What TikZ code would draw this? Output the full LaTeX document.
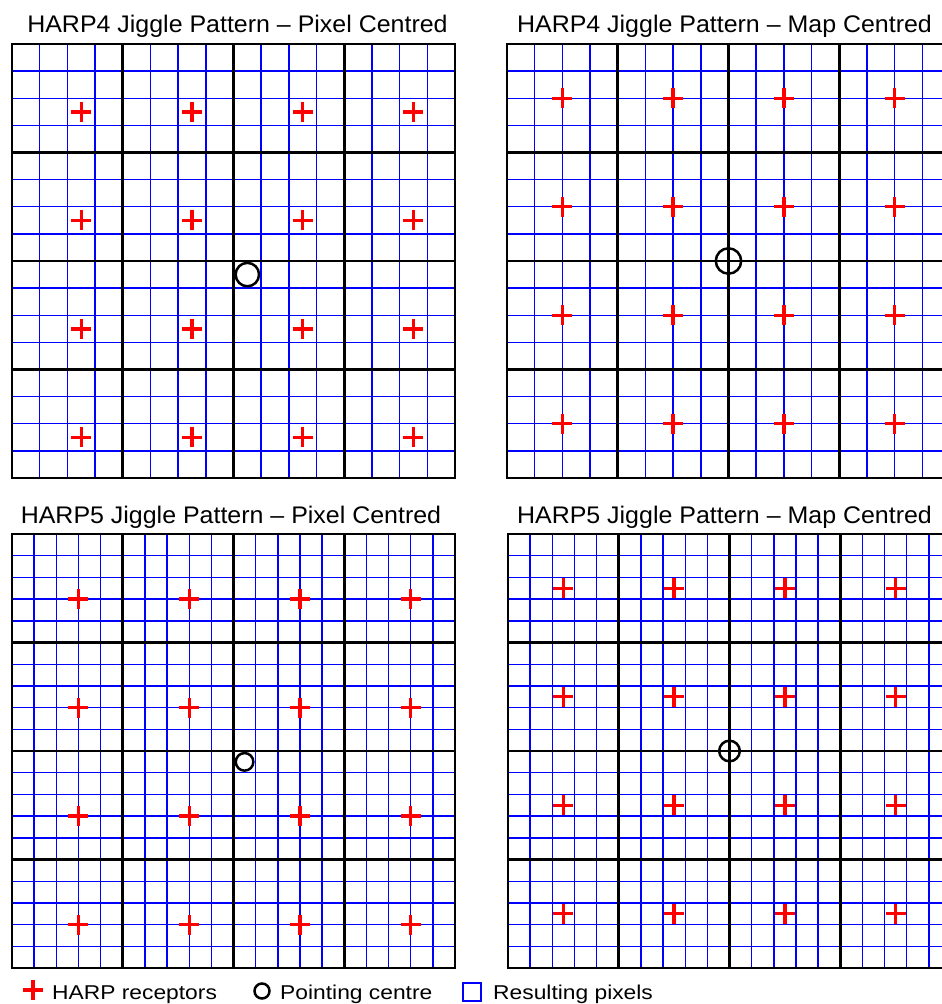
\documentclass[tikz,border=0pt]{standalone}
\usepackage{fontspec}
\setmainfont{Liberation Sans}
\usetikzlibrary{positioning}
\definecolor{pixblue}{HTML}{0000FF}
\definecolor{recred}{HTML}{FF0000}

\tikzset{
  receptor/.pic={\draw[recred, line width=3.4pt] (-10pt,0) -- (10pt,0) (0,-10pt) -- (0,10pt);}
}

\begin{document}
\begin{tikzpicture}[
  x=1pt, y=-1pt,
  pixline/.style={pixblue, line width=1.4pt},
  bigline/.style={black, line width=2.7pt},
  pointing/.style={black, line width=2.5pt},
  title/.style={font=\fontsize{24}{28}\selectfont, xscale=1.04, inner sep=0pt, anchor=base},
  legtext/.style={font=\fontsize{20}{24}\selectfont, xscale=1.14, inner sep=0pt, anchor=base west}
]
\useasboundingbox (0,0) rectangle (942,1004);
\clip (0,0) rectangle (942,1004);
\fill[white] (0,0) rectangle (942,1004);

% four jiggle panels: origin, sub-pixels per receptor, offset, circle fill, radius
\foreach \px/\py/\n/\off/\cfill/\rad in {12/44/4/0.5/white/11.7, 507/44/4/0/none/12.7,
                                         12/534/5/0.5/white/8.8, 508/534/5/0/none/10.3}{
  \pgfmathsetmacro\sx{443/(4*\n)}
  \pgfmathsetmacro\sy{434/(4*\n)}
  \pgfmathtruncatemacro\m{4*\n}
  \begin{scope}[shift={(\px,\py)}, x=\sx pt, y=-\sy pt]
    \foreach \k in {0,...,\m}
      \draw[pixline] (\k,0) -- (\k,\m) (0,\k) -- (\m,\k);
    \foreach \k in {0,\n,...,\m}
      \draw[bigline] (\k,0) -- (\k,\m) (0,\k) -- (\m,\k);
    \draw[bigline] (0,0) rectangle (\m,\m);
    \foreach \i in {0,...,3}
      \foreach \j in {0,...,3}
        \pic at ({\n*\i+\n/2+\off},{\n*\j+\n/2+\off}) {receptor};
    \draw[pointing, fill=\cfill] ({2*\n+\off},{2*\n+\off}) circle[radius=\rad pt];
  \end{scope}
}

% titles
\node[title] (t4pix) at (237.5,32) {HARP4 Jiggle Pattern – Pixel Centred};
\node[title] (t4map) at (724.5,32) {HARP4 Jiggle Pattern – Map Centred};
\node[title] (t5pix) at (231,523) {HARP5 Jiggle Pattern – Pixel Centred};
\node[title] (t5map) at (724.5,523) {HARP5 Jiggle Pattern – Map Centred};

% legend
\coordinate (lcross) at (33,990);
\coordinate (lcirc) at (262,991);
\pic at (lcross) {receptor};
\draw[pointing] (lcirc) circle[radius=7.5pt];
\draw[pixblue, line width=1.5pt] (463,983) rectangle (481,1001);
\node[legtext] (lrec) at (52,999) {HARP receptors};
\node[legtext] (lpnt) at (280,999) {Pointing centre};
\node[legtext] (lpix) at (493,999) {Resulting pixels};
\end{tikzpicture}
\end{document}
